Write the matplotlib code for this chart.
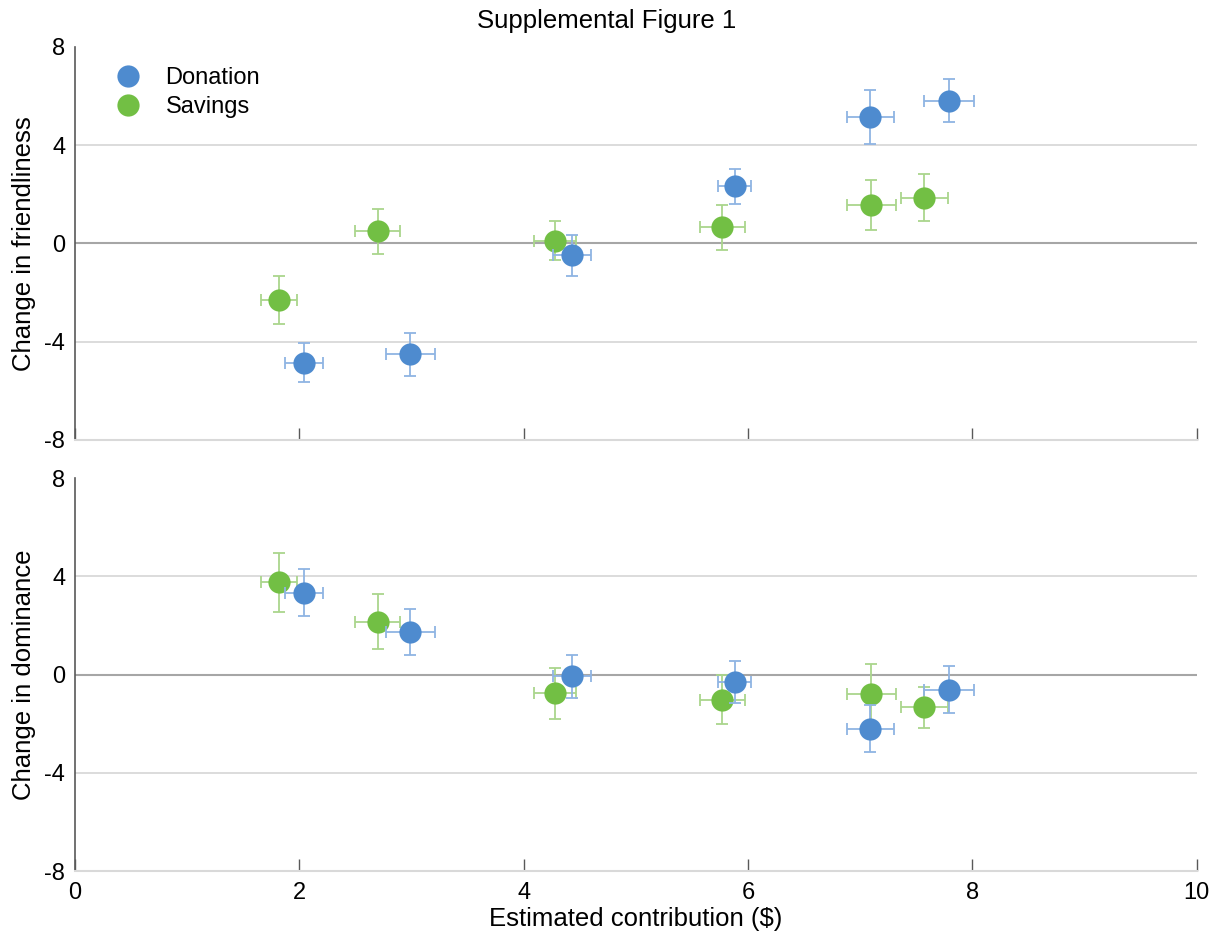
import matplotlib.pyplot as plt
import numpy as np

plt.rcParams['font.family'] = ['Liberation Sans', 'DejaVu Sans']
plt.rcParams['axes.unicode_minus'] = False

# Donation
don_x = [2.04, 2.99, 4.43, 5.88, 7.09, 7.79]
don_xerr = [0.17, 0.22, 0.17, 0.15, 0.21, 0.22]
don_friend = [-4.85, -4.52, -0.49, 2.32, 5.13, 5.82]
don_friend_err = [0.8, 0.87, 0.85, 0.7, 1.1, 0.88]
don_dom = [3.33, 1.72, -0.07, -0.3, -2.2, -0.61]
don_dom_err = [0.95, 0.94, 0.88, 0.86, 0.96, 0.96]

# Savings
sav_x = [1.82, 2.70, 4.28, 5.77, 7.10, 7.57]
sav_xerr = [0.16, 0.20, 0.19, 0.20, 0.22, 0.21]
sav_friend = [-2.32, 0.49, 0.12, 0.65, 1.55, 1.87]
sav_friend_err = [0.98, 0.9, 0.78, 0.9, 1.02, 0.96]
sav_dom = [3.75, 2.16, -0.77, -1.03, -0.8, -1.33]
sav_dom_err = [1.22, 1.12, 1.04, 1.0, 1.22, 0.83]

blue, blue_err = '#4e8bcf', '#8fb4e3'
green, green_err = '#72bf44', '#aad68c'

fig = plt.figure(figsize=(12.14, 9.36), dpi=100)
ax1 = fig.add_axes([0.0618, 0.530, 0.924, 0.4198])
ax2 = fig.add_axes([0.0618, 0.0694, 0.924, 0.4198])

panels = [
    (ax1, don_friend, don_friend_err, sav_friend, sav_friend_err, 'Change in friendliness'),
    (ax2, don_dom, don_dom_err, sav_dom, sav_dom_err, 'Change in dominance'),
]

for ax, dy, dye, sy, sye, ylab in panels:
    ax.set_xlim(0, 10)
    ax.set_ylim(-8, 8)
    for y in [-4, 4]:
        ax.axhline(y, color='#d9d9d9', lw=1.3, zorder=0)
    ax.axhline(0, color='#a6a6a6', lw=1.5, zorder=0)

    ax.errorbar(sav_x, sy, xerr=sav_xerr, yerr=sye, fmt='none', ecolor=green_err,
                elinewidth=1.3, capsize=4.5, capthick=1.3, zorder=2)
    ax.plot(sav_x, sy, 'o', color=green, ms=16, mec='none', zorder=3, label='Savings')
    ax.errorbar(don_x, dy, xerr=don_xerr, yerr=dye, fmt='none', ecolor=blue_err,
                elinewidth=1.3, capsize=4.5, capthick=1.3, zorder=4)
    ax.plot(don_x, dy, 'o', color=blue, ms=16, mec='none', zorder=5, label='Donation')

    for s in ['top', 'right']:
        ax.spines[s].set_visible(False)
    ax.spines['left'].set_color('#595959')
    ax.spines['left'].set_linewidth(1.2)
    ax.spines['bottom'].set_color('#d9d9d9')
    ax.spines['bottom'].set_linewidth(1.5)

    ax.set_yticks([-8, -4, 0, 4, 8])
    ax.set_yticks([8], minor=True)
    ax.tick_params(axis='y', which='major', length=0, pad=7, labelsize=17)
    ax.tick_params(axis='y', which='minor', length=9, direction='in', color='#595959', width=1.2)
    ax.set_xticks([0, 2, 4, 6, 8, 10])
    ax.tick_params(axis='x', which='major', length=9, direction='in', color='#595959',
                   width=1.0, pad=8, labelsize=17)
    ax.set_ylabel(ylab, fontsize=18.5, labelpad=6)

ax1.tick_params(axis='x', labelbottom=False)
ax2.set_xlabel('Estimated contribution ($)', fontsize=18.5, labelpad=2)

h, l = ax1.get_legend_handles_labels()
ax1.legend(h[::-1], l[::-1], loc='upper left', bbox_to_anchor=(0.007, 1.003), frameon=False,
           fontsize=17, handletextpad=0.6, labelspacing=0.3, markerscale=1.0)

fig.suptitle('Supplemental Figure 1', fontsize=18.5, y=0.99)

fig.savefig('out.png', dpi=100)
